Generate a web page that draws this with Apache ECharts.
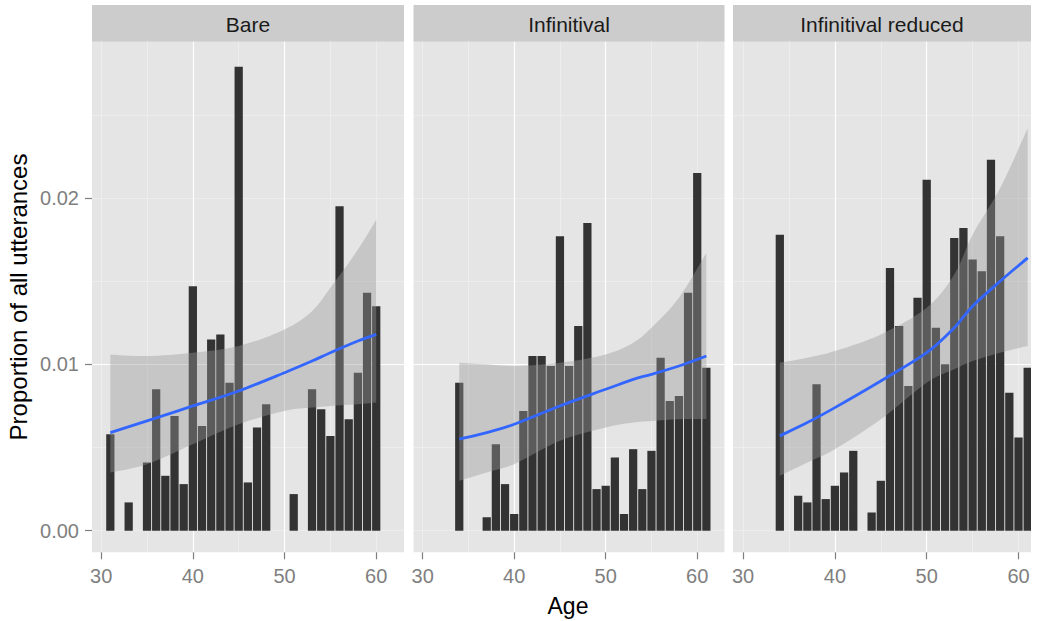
<!DOCTYPE html>
<html><head><meta charset="utf-8">
<script src="https://cdn.jsdelivr.net/npm/echarts@6/dist/echarts.min.js"></script>
<style>html,body{margin:0;padding:0;background:#fff}#c{width:1037px;height:621px}</style>
</head><body><div id="c"></div>
<script>
// ---------- data ----------
const panelNames = ['Bare', 'Infinitival', 'Infinitival reduced'];
const xTicks = [30, 40, 50, 60];
const yTicks = [0, 0.01, 0.02];

const bareAges  = [31,33,35,36,37,38,39,40,41,42,43,44,45,46,47,48,51,53,54,55,56,57,58,59,60];
const bareProps = [0.0058,0.0017,0.0041,0.0085,0.0033,0.0069,0.0028,0.0147,0.0063,0.0115,0.0118,0.0089,0.0279,0.0029,0.0062,0.0076,0.0022,0.0085,0.0073,0.0057,0.0195,0.0067,0.0095,0.0143,0.0135];

const infAges  = [34,37,38,39,40,41,42,43,44,45,46,47,48,49,50,51,52,53,54,55,56,57,58,59,60,61];
const infProps = [0.0089,0.0008,0.0052,0.0028,0.0010,0.0072,0.0105,0.0105,0.0099,0.0177,0.0099,0.0123,0.0185,0.0025,0.0027,0.0044,0.0010,0.0049,0.0025,0.0048,0.0104,0.0078,0.0081,0.0143,0.0215,0.0098];

const redAges  = [34,36,37,38,39,40,41,42,44,45,46,47,48,49,50,51,52,53,54,55,56,57,58,59,60,61];
const redProps = [0.0178,0.0021,0.0017,0.0088,0.0019,0.0027,0.0035,0.0048,0.0011,0.0030,0.0158,0.0123,0.0087,0.0140,0.0211,0.0122,0.0100,0.0176,0.0182,0.0163,0.0156,0.0223,0.0177,0.0083,0.0056,0.0098];

// smoother fits
const bareFitAges = [31,35,40,45,50,53,55,58,60];
const bareFit     = [0.0059,0.0066,0.0075,0.0084,0.0095,0.0102,0.0107,0.0114,0.0118];
const bareUpper   = [0.0106,0.0105,0.0107,0.0111,0.0121,0.0132,0.0146,0.0169,0.0187];
const bareLower   = [0.0035,0.0040,0.0052,0.0064,0.0072,0.0074,0.0075,0.0076,0.0077];

const infFitAges = [34,37,40,45,50,53,55,58,61];
const infFit     = [0.0055,0.0059,0.0064,0.0075,0.0085,0.0091,0.0094,0.0099,0.0105];
const infUpper   = [0.0101,0.0100,0.0099,0.0101,0.0106,0.0113,0.0122,0.0140,0.0167];
const infLower   = [0.0030,0.0035,0.0040,0.0054,0.0062,0.0065,0.0066,0.0067,0.0067];

const redFitAges = [34,37,40,45,50,53,55,58,61];
const redFit     = [0.0057,0.0065,0.0074,0.0090,0.0107,0.0122,0.0135,0.0150,0.0164];
const redUpper   = [0.0101,0.0104,0.0108,0.0118,0.0134,0.0154,0.0178,0.0206,0.0242];
const redLower   = [0.0033,0.0041,0.0049,0.0067,0.0089,0.0097,0.0102,0.0107,0.0111];

// ---------- layout ----------
const FONT = '"Liberation Sans", Arial, sans-serif';
const panels = [
  {ages: bareAges, props: bareProps, fa: bareFitAges, fit: bareFit, up: bareUpper, lo: bareLower},
  {ages: infAges,  props: infProps,  fa: infFitAges,  fit: infFit,  up: infUpper,  lo: infLower},
  {ages: redAges,  props: redProps,  fa: redFitAges,  fit: redFit,  up: redUpper,  lo: redLower}
];
const gridLeft  = [92, 413.5, 733];
const gridWidth = [312, 311, 298];
const xMin = [29, 29, 28.9];
const xMax = [63.03, 62.98, 61.36];
const gridTop = 41.7, gridHeight = 510.6;
const yMin = -0.0013, yMax = 0.0294;

// Catmull-Rom -> cubic bezier path segments through pixel points
function smoothSegs(pts) {
  let d = '';
  for (let k = 0; k < pts.length - 1; k++) {
    const p0 = pts[Math.max(k - 1, 0)], p1 = pts[k], p2 = pts[k + 1], p3 = pts[Math.min(k + 2, pts.length - 1)];
    const c1x = p1[0] + (p2[0] - p0[0]) / 6, c1y = p1[1] + (p2[1] - p0[1]) / 6;
    const c2x = p2[0] - (p3[0] - p1[0]) / 6, c2y = p2[1] - (p3[1] - p1[1]) / 6;
    d += ' C' + c1x + ',' + c1y + ' ' + c2x + ',' + c2y + ' ' + p2[0] + ',' + p2[1];
  }
  return d;
}

const grids = [], xAxes = [], yAxes = [], series = [], graphics = [];
for (let i = 0; i < 3; i++) {
  grids.push({left: gridLeft[i], top: gridTop, width: gridWidth[i], height: gridHeight,
    show: true, backgroundColor: '#e5e5e5', borderWidth: 0, containLabel: false});
}
// major axes (index i), minor axes (index 3+i)
for (let i = 0; i < 3; i++) {
  xAxes.push({gridIndex: i, type: 'value', min: xMin[i], max: xMax[i], splitNumber: 3, z: 1, position: 'bottom',
    axisLine: {show: false, onZero: false},
    axisTick: {show: true, length: 7, customValues: xTicks, lineStyle: {color: '#7f7f7f', width: 1.2}},
    axisLabel: {show: true, customValues: xTicks, color: '#7f7f7f', fontSize: 20, margin: 14, fontFamily: FONT},
    splitLine: {show: true, showMinLine: false, showMaxLine: false, lineStyle: {color: '#ffffff', width: 1.2}}
  });
  yAxes.push({gridIndex: i, type: 'value', min: yMin, max: yMax, splitNumber: 3, z: 1, position: 'left',
    axisLine: {show: false, onZero: false},
    axisTick: {show: i === 0, length: 7, customValues: yTicks, lineStyle: {color: '#7f7f7f', width: 1.2}},
    axisLabel: {show: i === 0, customValues: yTicks, color: '#7f7f7f', fontSize: 20, margin: 13, fontFamily: FONT,
      formatter: v => v.toFixed(2)},
    splitLine: {show: true, showMinLine: false, showMaxLine: false, lineStyle: {color: '#ffffff', width: 1.2}}
  });
}
for (let i = 0; i < 3; i++) {
  xAxes.push({gridIndex: i, type: 'value', min: xMin[i], max: xMax[i], splitNumber: 7, z: 0, position: 'top',
    axisLine: {show: false, onZero: false}, axisTick: {show: false}, axisLabel: {show: false},
    splitLine: {show: true, showMinLine: false, showMaxLine: false, lineStyle: {color: '#f2f2f2', width: 0.6}}
  });
  yAxes.push({gridIndex: i, type: 'value', min: yMin, max: yMax, splitNumber: 6, z: 0, position: 'right',
    axisLine: {show: false, onZero: false}, axisTick: {show: false}, axisLabel: {show: false},
    splitLine: {show: true, showMinLine: false, showMaxLine: false, lineStyle: {color: '#f2f2f2', width: 0.6}}
  });
}

for (let i = 0; i < 3; i++) {
  const p = panels[i];
  // bars
  series.push({
    type: 'custom', xAxisIndex: i, yAxisIndex: i, z: 2, clip: true,
    data: p.ages.map((a, k) => [a, p.props[k]]),
    renderItem: (params, api) => {
      const x = api.value(0), v = api.value(1);
      const a = api.coord([x - 0.45, v]);
      const b = api.coord([x + 0.45, 0]);
      return {type: 'rect', shape: {x: a[0], y: a[1], width: b[0] - a[0], height: b[1] - a[1]},
        style: {fill: '#333333'}};
    }
  });
  // confidence ribbon
  series.push({
    type: 'custom', xAxisIndex: i, yAxisIndex: i, z: 3, clip: true,
    encode: {x: 0, y: [1, 2]},
    data: p.fa.map((a, k) => [a, p.lo[k], p.up[k]]),
    renderItem: (params, api) => {
      if (params.dataIndexInside !== 0) return null;
      const n = params.dataInsideLength;
      const up = [], lo = [];
      for (let j = 0; j < n; j++) {
        const x = api.value(0, j);
        lo.push(api.coord([x, api.value(1, j)]));
        up.push(api.coord([x, api.value(2, j)]));
      }
      const loR = lo.slice().reverse();
      const d = 'M' + up[0][0] + ',' + up[0][1] + smoothSegs(up) +
        ' L' + loR[0][0] + ',' + loR[0][1] + smoothSegs(loR) + ' Z';
      return {type: 'path', shape: {pathData: d}, style: {fill: 'rgba(153,153,153,0.4)'}};
    }
  });
  // fitted line
  series.push({
    type: 'custom', xAxisIndex: i, yAxisIndex: i, z: 4, clip: true,
    data: p.fa.map((a, k) => [a, p.fit[k]]),
    renderItem: (params, api) => {
      if (params.dataIndexInside !== 0) return null;
      const n = params.dataInsideLength;
      const pts = [];
      for (let j = 0; j < n; j++) pts.push(api.coord([api.value(0, j), api.value(1, j)]));
      const d = 'M' + pts[0][0] + ',' + pts[0][1] + smoothSegs(pts);
      return {type: 'path', shape: {pathData: d},
        style: {fill: 'none', stroke: '#3366FF', lineWidth: 2.8, lineCap: 'butt', lineJoin: 'round'}};
    }
  });
  // facet strip
  graphics.push({type: 'rect', shape: {x: gridLeft[i], y: 5, width: gridWidth[i], height: gridTop - 5},
    style: {fill: '#cccccc'}, silent: true});
  graphics.push({type: 'text', x: gridLeft[i] + gridWidth[i] / 2, y: (5 + gridTop) / 2 + 1,
    style: {text: panelNames[i], fontSize: 21, fontFamily: FONT, fill: '#1a1a1a', align: 'center', verticalAlign: 'middle'}});
}
graphics.push({type: 'text', x: 568, y: 606,
  style: {text: 'Age', fontSize: 23, fontFamily: FONT, fill: '#000000', align: 'center', verticalAlign: 'middle'}});
graphics.push({type: 'text', x: 18, y: 297, rotation: Math.PI / 2,
  style: {text: 'Proportion of all utterances', fontSize: 24, fontFamily: FONT, fill: '#000000', align: 'center', verticalAlign: 'middle'}});

const chart = echarts.init(document.getElementById('c'), null, {renderer: 'svg', width: 1037, height: 621});
chart.setOption({
  animation: false,
  backgroundColor: '#ffffff',
  grid: grids, xAxis: xAxes, yAxis: yAxes, series: series, graphic: graphics
});
</script></body></html>
